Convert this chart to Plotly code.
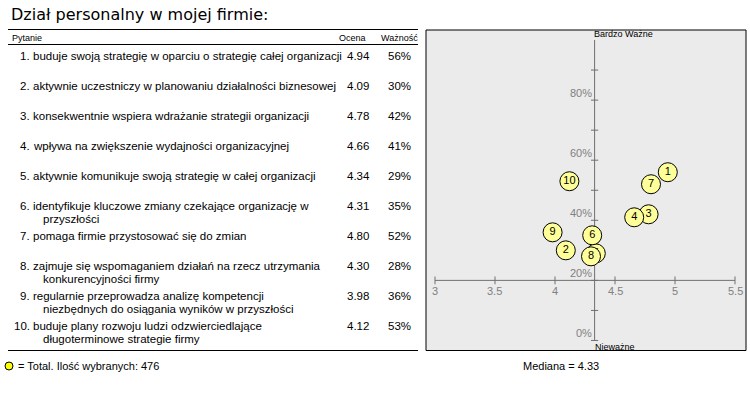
import plotly.graph_objects as go

title = "Dział personalny w mojej firmie:"
questions = [
    "buduje swoją strategię w oparciu o strategię całej organizacji",
    "aktywnie uczestniczy w planowaniu działalności biznesowej",
    "konsekwentnie wspiera wdrażanie strategii organizacji",
    "wpływa na zwiększenie wydajności organizacyjnej",
    "aktywnie komunikuje swoją strategię w całej organizacji",
    "identyfikuje kluczowe zmiany czekające organizację w\nprzyszłości",
    "pomaga firmie przystosować się do zmian",
    "zajmuje się wspomaganiem działań na rzecz utrzymania\nkonkurencyjności firmy",
    "regularnie przeprowadza analizę kompetencji\nniezbędnych do osiągania wyników w przyszłości",
    "buduje plany rozwoju ludzi odzwierciedlające\ndługoterminowe strategie firmy",
]
scores = [4.94, 4.09, 4.78, 4.66, 4.34, 4.31, 4.80, 4.30, 3.98, 4.12]
importance = [56, 30, 42, 41, 29, 35, 52, 28, 36, 53]
median_score = 4.33
h_axis_level = 20
x_ticks = [3, 3.5, 4, 4.5, 5, 5.5]
y_ticks_minor = list(range(0, 100, 10))
y_tick_labels = [0, 20, 40, 60, 80]
total_count = 476

W, H = 750, 400
def px(x):
    return x / W
def py(y):
    return 1 - y / H

TXT = "Liberation Sans"
fig = go.Figure()

# one trace per point so later points (and their labels) cover earlier ones
for i in range(len(scores)):
    fig.add_trace(go.Scatter(
        x=[scores[i]], y=[importance[i]], text=[str(i + 1)], mode="markers+text",
        textposition="middle center",
        textfont=dict(family=TXT, size=11, color="black"),
        marker=dict(size=19, color="#FFFF99", line=dict(color="black", width=1)),
        hoverinfo="skip", showlegend=False,
    ))

shapes = []
ann = []

# table
ann.append(dict(x=px(9), y=py(15), xref="paper", yref="paper", text=title,
                showarrow=False, xanchor="left", yanchor="middle",
                font=dict(family="DejaVu Sans", size=16, color="black")))
for yy in (29.5, 44.5, 350.5):
    shapes.append(dict(type="line", xref="paper", yref="paper", x0=px(8), x1=px(418),
                       y0=py(yy), y1=py(yy), line=dict(color="black", width=1)))
hdr = dict(family=TXT, size=9, color="black")
ann.append(dict(x=px(10), y=py(37.5), xref="paper", yref="paper", text="Pytanie",
                showarrow=False, xanchor="left", yanchor="middle", font=hdr))
ann.append(dict(x=px(352), y=py(37.5), xref="paper", yref="paper", text="Ocena",
                showarrow=False, xanchor="center", yanchor="middle", font=hdr))
ann.append(dict(x=px(399), y=py(37.5), xref="paper", yref="paper", text="Ważność",
                showarrow=False, xanchor="center", yanchor="middle", font=hdr))

rowf = dict(family=TXT, size=11.5, color="black")
for i, q in enumerate(questions):
    y0 = 56 + 30 * i
    parts = q.split("\n")
    ann.append(dict(x=px(32), y=py(y0), xref="paper", yref="paper", text=f"{i+1}.",
                    showarrow=False, xanchor="right", yanchor="middle", font=rowf))
    ann.append(dict(x=px(31), y=py(y0), xref="paper", yref="paper", text=parts[0],
                    showarrow=False, xanchor="left", yanchor="middle", font=rowf))
    if len(parts) > 1:
        ann.append(dict(x=px(41), y=py(y0 + 12.5), xref="paper", yref="paper", text=parts[1],
                        showarrow=False, xanchor="left", yanchor="middle", font=rowf))
    ann.append(dict(x=px(358), y=py(y0), xref="paper", yref="paper", text=f"{scores[i]:.2f}",
                    showarrow=False, xanchor="center", yanchor="middle", font=rowf))
    ann.append(dict(x=px(399), y=py(y0), xref="paper", yref="paper", text=f"{importance[i]}%",
                    showarrow=False, xanchor="center", yanchor="middle", font=rowf))

# panel border
shapes.append(dict(type="rect", xref="paper", yref="paper", x0=px(426), x1=px(746),
                   y0=py(350.5), y1=py(30), line=dict(color="black", width=1),
                   layer="above"))
axc = "#707070"
shapes.append(dict(type="line", xref="x", yref="y", x0=x_ticks[0], x1=x_ticks[-1],
                   y0=h_axis_level, y1=h_axis_level, line=dict(color=axc, width=1), layer="below"))
shapes.append(dict(type="line", xref="x", yref="y", x0=median_score, x1=median_score,
                   y0=0, y1=100, line=dict(color=axc, width=1), layer="below"))
for t in x_ticks:
    shapes.append(dict(type="line", xref="x", yref="y", x0=t, x1=t,
                       y0=h_axis_level - 1.3, y1=h_axis_level + 1.3,
                       line=dict(color=axc, width=1), layer="below"))
for t in y_ticks_minor:
    shapes.append(dict(type="line", xref="x", yref="y", x0=median_score - 0.03,
                       x1=median_score + 0.03, y0=t, y1=t,
                       line=dict(color=axc, width=1), layer="below"))
tickf = dict(family=TXT, size=11, color="#808080")
for t in x_ticks:
    ann.append(dict(x=t, y=h_axis_level, xref="x", yref="y", text=f"{t:g}", showarrow=False,
                    xanchor="center", yanchor="top", yshift=-3, font=tickf))
for t in y_tick_labels:
    ann.append(dict(x=median_score, y=t, xref="x", yref="y", text=f"{t}%", showarrow=False,
                    xanchor="right", yanchor="bottom", xshift=-1, yshift=-1, font=tickf))
smallf = dict(family=TXT, size=9, color="black")
ann.append(dict(x=median_score, y=100, xref="x", yref="y", text="Bardzo Ważne", showarrow=False,
                xanchor="left", yanchor="bottom", xshift=-3, yshift=-1, font=smallf))
ann.append(dict(x=median_score, y=0, xref="x", yref="y", text="Nieważne", showarrow=False,
                xanchor="left", yanchor="top", xshift=-2, font=smallf))

# bottom legend
shapes.append(dict(type="circle", xref="paper", yref="paper", x0=px(5), x1=px(13),
                   y0=py(370), y1=py(362), fillcolor="#FFFF00", line=dict(color="black", width=1)))
ann.append(dict(x=px(16), y=py(366), xref="paper", yref="paper",
                text=f"= Total. Ilość wybranych: {total_count}", showarrow=False,
                xanchor="left", yanchor="middle", font=dict(family=TXT, size=11, color="black")))
ann.append(dict(x=px(561), y=py(366), xref="paper", yref="paper",
                text=f"Mediana = {median_score:.2f}", showarrow=False,
                xanchor="center", yanchor="middle", font=dict(family=TXT, size=11, color="black")))

fig.update_layout(
    width=W, height=H, margin=dict(l=0, r=0, t=0, b=0),
    paper_bgcolor="white", plot_bgcolor="#EBEBEB",
    xaxis=dict(range=[3 - 9 / 120, 3 + 311 / 120], domain=[px(426), px(746)],
               showgrid=False, zeroline=False, showticklabels=False, showline=False, fixedrange=True),
    yaxis=dict(range=[-10 / 3, 310 / 3], domain=[py(350.5), py(30)],
               showgrid=False, zeroline=False, showticklabels=False, showline=False, fixedrange=True),
    shapes=shapes, annotations=ann, showlegend=False,
)
fig.write_html("out.html")
